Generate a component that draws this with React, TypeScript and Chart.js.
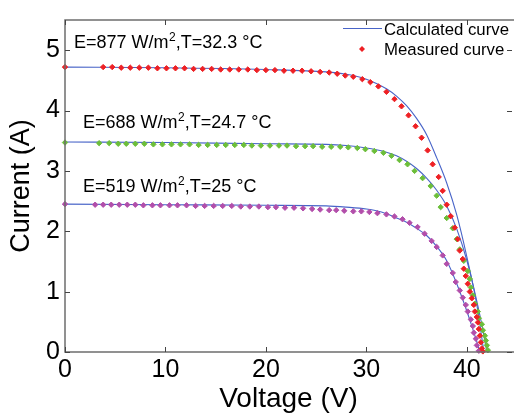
import React, { useEffect, useRef } from "react";
import { Chart, registerables } from "chart.js";
Chart.register(...registerables);

const FONT = '"Liberation Sans", Arial, Helvetica, sans-serif';

// Axis ticks and titles
const xTicks = [0, 10, 20, 30, 40];
const yTicks = [0, 1, 2, 3, 4, 5];
const xTitle = "Voltage (V)";
const yTitle = "Current (A)";
const legendLabels = ["Calculated curve", "Measured curve"];

// Condition labels
const labelE = ["877", "688", "519"];
const labelT = ["32.3", "24.7", "25"];

// Measured curve, E=877 W/m2
const redV = [0, 3.8, 4.7, 5.6, 6.5, 7.4, 8.3, 9.2, 10.1, 11.0, 11.9, 12.8, 13.7, 14.6, 15.5, 16.4, 17.3, 18.2, 19.1, 20.0, 20.9, 21.8, 22.7, 23.6, 24.5, 25.4, 26.3, 27.1, 27.9, 28.7, 29.6, 30.4, 31.2, 32.0, 32.8, 33.5, 34.2, 34.9, 35.5, 36.1, 36.6, 37.2, 37.6, 38.0, 38.4, 38.8, 39.1, 39.3, 39.6, 39.7, 39.9, 40.1, 40.3, 40.5, 40.7, 40.8, 41.0, 41.1, 41.2, 41.3, 41.4, 41.5, 41.6];
const redI = [4.72, 4.72, 4.72, 4.71, 4.71, 4.71, 4.71, 4.70, 4.70, 4.70, 4.70, 4.69, 4.69, 4.69, 4.68, 4.68, 4.68, 4.68, 4.67, 4.67, 4.67, 4.66, 4.66, 4.66, 4.65, 4.64, 4.63, 4.61, 4.58, 4.56, 4.52, 4.47, 4.40, 4.31, 4.19, 4.07, 3.92, 3.74, 3.55, 3.34, 3.11, 2.90, 2.67, 2.44, 2.25, 2.06, 1.87, 1.68, 1.54, 1.38, 1.26, 1.13, 1.00, 0.89, 0.78, 0.67, 0.58, 0.49, 0.38, 0.27, 0.16, 0.06, 0.01];

// Measured curve, E=688 W/m2
const greenV = [0, 3.4, 4.4, 5.3, 6.1, 7.0, 7.9, 8.8, 9.7, 10.6, 11.5, 12.4, 13.3, 14.2, 15.1, 16.0, 16.9, 17.8, 18.6, 19.5, 20.4, 21.3, 22.1, 23.0, 23.9, 24.7, 25.6, 26.5, 27.4, 28.2, 29.1, 29.9, 30.8, 31.7, 32.5, 33.3, 34.1, 34.8, 35.6, 36.4, 37.0, 37.4, 38.0, 38.6, 39.0, 39.3, 39.7, 40.1, 40.3, 40.4, 40.6, 40.8, 41.1, 41.2, 41.5, 41.6, 41.8, 41.9, 42.0, 42.1];
const greenI = [3.47, 3.46, 3.46, 3.45, 3.45, 3.45, 3.45, 3.44, 3.44, 3.44, 3.44, 3.44, 3.43, 3.43, 3.43, 3.43, 3.43, 3.43, 3.42, 3.42, 3.42, 3.42, 3.42, 3.41, 3.41, 3.41, 3.40, 3.40, 3.40, 3.39, 3.38, 3.36, 3.33, 3.30, 3.25, 3.18, 3.11, 3.00, 2.88, 2.75, 2.59, 2.40, 2.22, 2.05, 1.87, 1.70, 1.51, 1.34, 1.21, 1.07, 0.94, 0.80, 0.67, 0.56, 0.46, 0.36, 0.27, 0.19, 0.11, 0.03];

// Measured curve, E=519 W/m2
const purpleV = [0, 3.0, 3.8, 4.6, 5.4, 6.2, 7.0, 7.8, 8.7, 9.5, 10.4, 11.2, 12.1, 13.0, 13.9, 14.8, 15.7, 16.6, 17.5, 18.4, 19.3, 20.2, 21.0, 21.9, 22.8, 23.7, 24.6, 25.4, 26.3, 27.0, 27.8, 28.7, 29.5, 30.3, 31.1, 32.0, 32.8, 33.6, 34.3, 35.1, 35.8, 36.5, 37.0, 37.6, 38.0, 38.6, 38.9, 39.3, 39.6, 39.9, 40.1, 40.4, 40.6, 40.7, 40.9, 41.0, 41.2];
const purpleI = [2.45, 2.44, 2.44, 2.44, 2.44, 2.44, 2.44, 2.43, 2.43, 2.43, 2.43, 2.43, 2.43, 2.42, 2.42, 2.42, 2.42, 2.42, 2.41, 2.41, 2.41, 2.40, 2.40, 2.39, 2.39, 2.38, 2.37, 2.36, 2.35, 2.35, 2.34, 2.33, 2.33, 2.32, 2.30, 2.28, 2.245, 2.20, 2.14, 2.07, 1.96, 1.84, 1.74, 1.60, 1.46, 1.31, 1.16, 1.02, 0.90, 0.78, 0.67, 0.54, 0.43, 0.32, 0.22, 0.11, 0.02];

// Calculated curves
const calcRedV = [0, 10, 20, 26, 28, 30, 31, 32, 33, 34, 35, 36, 37, 38, 39, 40, 41, 41.7];
const calcRedI = [4.72, 4.71, 4.68, 4.64, 4.60, 4.52, 4.45, 4.36, 4.24, 4.08, 3.87, 3.60, 3.22, 2.80, 2.27, 1.58, 0.78, 0.0];
const calcGreenV = [0, 10, 20, 26, 28, 30, 31, 32, 33, 34, 35, 36, 37, 38, 39, 40, 41, 41.5, 42];
const calcGreenI = [3.48, 3.47, 3.45, 3.44, 3.42, 3.38, 3.35, 3.31, 3.25, 3.16, 3.04, 2.88, 2.68, 2.42, 2.04, 1.52, 0.84, 0.45, 0.0];
const calcPurpleV = [0, 10, 20, 26, 28, 30, 31, 32, 33, 34, 35, 36, 37, 38, 39, 40, 40.5, 41, 41.3];
const calcPurpleI = [2.45, 2.44, 2.43, 2.42, 2.40, 2.37, 2.34, 2.29, 2.22, 2.15, 2.05, 1.93, 1.75, 1.51, 1.13, 0.68, 0.43, 0.17, 0.0];

const RED = "rgb(238,32,36)";
const GREEN = "rgb(108,190,58)";
const PURPLE = "rgb(178,78,170)";
const BLUE = "rgb(72,100,200)";
const AXIS = "#6e6e6e";

const pts = (xs: number[], ys: number[]) => xs.map((x, i) => ({ x, y: ys[i] }));

const measured = (xs: number[], ys: number[], color: string) => ({
  type: "line" as const,
  data: pts(xs, ys),
  showLine: false,
  pointStyle: "rectRot",
  pointRadius: 2.7,
  pointBorderWidth: 1,
  pointBackgroundColor: color,
  pointBorderColor: color,
  borderColor: color,
  backgroundColor: color,
  clip: false,
  order: 0,
});

const calc = (xs: number[], ys: number[]) => ({
  type: "line" as const,
  data: pts(xs, ys),
  showLine: true,
  borderColor: BLUE,
  borderWidth: 1.1,
  pointRadius: 0,
  cubicInterpolationMode: "monotone" as const,
  fill: false,
  order: 1,
});

const framePlugin = {
  id: "frame",
  afterDraw(chart: any) {
    const { ctx, chartArea: a, scales } = chart;
    const xs = scales.x;
    const ys = scales.y;
    ctx.save();
    // frame
    ctx.strokeStyle = AXIS;
    ctx.lineWidth = 1.5;
    ctx.beginPath();
    ctx.moveTo(a.right + 2, a.top);
    ctx.lineTo(a.left, a.top);
    ctx.lineTo(a.left, a.bottom);
    ctx.lineTo(a.right + 2, a.bottom);
    ctx.stroke();
    // inward ticks
    ctx.strokeStyle = "#444";
    ctx.lineWidth = 1;
    const tl = 5;
    ctx.beginPath();
    xTicks.forEach((v) => {
      const px = Math.round(xs.getPixelForValue(v)) + 0.5;
      ctx.moveTo(px, a.bottom);
      ctx.lineTo(px, a.bottom - tl);
      ctx.moveTo(px, a.top);
      ctx.lineTo(px, a.top + tl);
    });
    yTicks.forEach((v) => {
      const py = Math.round(ys.getPixelForValue(v)) + 0.5;
      ctx.moveTo(a.left, py);
      ctx.lineTo(a.left + tl, py);
      ctx.moveTo(a.right, py);
      ctx.lineTo(a.right - tl, py);
    });
    ctx.stroke();

    // condition labels
    const lab = [
      { x: 74, y: 48 },
      { x: 83, y: 128 },
      { x: 83, y: 192 },
    ];
    ctx.fillStyle = "#000";
    ctx.textBaseline = "alphabetic";
    ctx.textAlign = "left";
    lab.forEach((p, i) => {
      let x = p.x;
      ctx.font = `18px ${FONT}`;
      const s1 = `E=${labelE[i]} W/m`;
      ctx.fillText(s1, x, p.y);
      x += ctx.measureText(s1).width;
      ctx.font = `12px ${FONT}`;
      ctx.fillText("2", x + 0.5, p.y - 7);
      x += ctx.measureText("2").width + 0.5;
      ctx.font = `18px ${FONT}`;
      ctx.fillText(`,T=${labelT[i]} °C`, x, p.y);
    });

    // legend
    ctx.strokeStyle = BLUE;
    ctx.lineWidth = 1.1;
    ctx.beginPath();
    ctx.moveTo(343, 28.5);
    ctx.lineTo(382, 28.5);
    ctx.stroke();
    ctx.fillStyle = RED;
    ctx.beginPath();
    ctx.moveTo(362, 46);
    ctx.lineTo(365, 49);
    ctx.lineTo(362, 52);
    ctx.lineTo(359, 49);
    ctx.closePath();
    ctx.fill();
    ctx.fillStyle = "#000";
    ctx.font = `16.8px ${FONT}`;
    ctx.fillText(legendLabels[0], 384, 35);
    ctx.fillText(legendLabels[1], 384, 55);
    ctx.restore();
  },
};

export default function App() {
  const ref = useRef<HTMLCanvasElement | null>(null);
  useEffect(() => {
    if (!ref.current) return;
    const chart = new Chart(ref.current, {
      type: "line",
      data: {
        datasets: [
          measured(redV, redI, RED),
          measured(greenV, greenI, GREEN),
          measured(purpleV, purpleI, PURPLE),
          calc(calcRedV, calcRedI),
          calc(calcGreenV, calcGreenI),
          calc(calcPurpleV, calcPurpleI),
        ] as any,
      },
      options: {
        animation: false,
        responsive: false,
        maintainAspectRatio: false,
        devicePixelRatio: 1,
        layout: { padding: { top: 9, right: 0, left: 0, bottom: 0 } },
        plugins: { legend: { display: false }, tooltip: { enabled: false } },
        scales: {
          x: {
            type: "linear",
            min: 0,
            max: 44.5,
            afterBuildTicks: (s: any) => {
              s.ticks = xTicks.map((v) => ({ value: v }));
            },
            afterFit: (s: any) => {
              s.height = 61;
            },
            ticks: {
              font: { family: FONT, size: 25 },
              color: "#000",
              padding: 3,
              maxRotation: 0,
              autoSkip: false,
            },
            grid: { display: false, drawTicks: false },
            border: { display: false },
            title: {
              display: true,
              text: xTitle,
              font: { family: FONT, size: 28, lineHeight: 1 },
              color: "#000",
              padding: { top: 0, bottom: 0 },
            },
          },
          y: {
            type: "linear",
            min: 0,
            max: 5.5,
            afterBuildTicks: (s: any) => {
              s.ticks = yTicks.map((v) => ({ value: v }));
            },
            afterFit: (s: any) => {
              s.width = 65;
            },
            ticks: {
              font: { family: FONT, size: 25 },
              color: "#000",
              padding: 5,
              autoSkip: false,
            },
            grid: { display: false, drawTicks: false },
            border: { display: false },
            title: {
              display: true,
              text: yTitle,
              font: { family: FONT, size: 27 },
              color: "#000",
              padding: { top: 5, bottom: 0 },
            },
          },
        },
      },
      plugins: [framePlugin],
    });
    return () => chart.destroy();
  }, []);
  return (
    <div style={{ position: "absolute", left: 0, top: 0, width: 517, height: 413, background: "#fff" }}>
      <canvas ref={ref} width={517} height={413} style={{ display: "block" }} />
    </div>
  );
}
